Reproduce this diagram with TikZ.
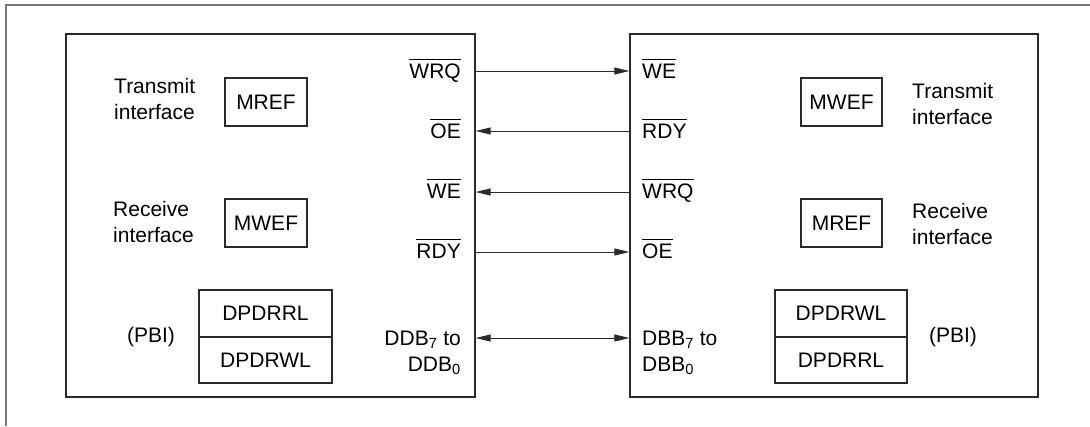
\documentclass[tikz,border=0pt]{standalone}
\usepackage{fontspec}
\setmainfont{Liberation Sans}
\usetikzlibrary{arrows.meta}
\newcommand{\ovl}[1]{\leavevmode\vbox{\hrule height 1.1pt\kern 3.6pt\hbox{#1}}}
\definecolor{framegray}{HTML}{767676}
\definecolor{linedark}{HTML}{2A2A2A}
\begin{document}
\begin{tikzpicture}[x=1pt,y=-1pt,
  font=\fontsize{21}{26}\selectfont,
  frameline/.style={draw=framegray,line width=1.4pt},
  blk/.style={draw=linedark,line width=1.3pt,rectangle,inner sep=0pt},
  sbox/.style={draw=linedark,line width=1.1pt,rectangle,inner sep=0pt},
  txt/.style={inner sep=0pt},
  arr/.style={draw=linedark,line width=0.9pt,-{Triangle[length=15pt,width=7pt]}},
  darr/.style={draw=linedark,line width=0.9pt,{Triangle[length=15pt,width=7pt]}-{Triangle[length=15pt,width=7pt]}}]
\useasboundingbox (0,0) rectangle (1090,426);
% outer frame
\draw[frameline] (6,426) -- (6,5) -- (1090,5);
% main blocks
\node[blk,minimum width=409pt,minimum height=363pt] (L) at (270.5,215.5) {};
\node[blk,minimum width=408pt,minimum height=363pt] (R) at (834,215.5) {};
% left block contents
\node[txt,anchor=north west,align=left] (tiL) at (114,78) {Transmit\\interface};
\node[sbox,minimum width=82pt,minimum height=48pt] (mrefL) at (266,102) {MREF};
\node[txt,anchor=north west,align=left] (riL) at (113,201) {Receive\\interface};
\node[sbox,minimum width=82pt,minimum height=48pt] (mwefL) at (266,223) {MWEF};
\node[sbox,minimum width=133pt,minimum height=47pt] (dprrL) at (265.5,313.5) {DPDRRL};
\node[sbox,minimum width=133pt,minimum height=46pt] (dprwL) at (265.5,360) {DPDRWL};
\node[txt,anchor=base] (pbiL) at (151,342) {(PBI)};
% right block contents
\node[sbox,minimum width=81pt,minimum height=48pt] (mwefR) at (841.5,102) {MWEF};
\node[txt,anchor=north west,align=left] (tiR) at (912,83) {Transmit\\interface};
\node[sbox,minimum width=81pt,minimum height=48pt] (mrefR) at (841.5,223) {MREF};
\node[txt,anchor=north west,align=left] (riR) at (912,203) {Receive\\interface};
\node[sbox,minimum width=132pt,minimum height=47pt] (dpwR) at (841,313.5) {DPDRWL};
\node[sbox,minimum width=132pt,minimum height=46pt] (dprR) at (841,360) {DPDRRL};
\node[txt,anchor=base] (pbiR) at (953,342) {(PBI)};
% signal labels, left
\node[txt,anchor=base east] (lWRQ) at (461,78) {\ovl{WRQ}};
\node[txt,anchor=base east] (lOE) at (461,138) {\ovl{OE}};
\node[txt,anchor=base east] (lWE) at (461,198) {\ovl{WE}};
\node[txt,anchor=base east] (lRDY) at (461,258.5) {\ovl{RDY}};
\node[txt,anchor=north east,align=right] (lDDB) at (461,331) {DDB\textsubscript{7} to\\DDB\textsubscript{0}};
% signal labels, right
\node[txt,anchor=base west] (rWE) at (642,78) {\ovl{WE}};
\node[txt,anchor=base west] (rRDY) at (642,138) {\ovl{RDY}};
\node[txt,anchor=base west] (rWRQ) at (642,198) {\ovl{WRQ}};
\node[txt,anchor=base west] (rOE) at (642,258.5) {\ovl{OE}};
\node[txt,anchor=north west,align=left] (rDBB) at (642,331) {DBB\textsubscript{7} to\\DBB\textsubscript{0}};
% connectors
\draw[arr] (L.east |- 0,71) -- (R.west |- 0,71);
\draw[arr] (R.west |- 0,131) -- (L.east |- 0,131);
\draw[arr] (R.west |- 0,192) -- (L.east |- 0,192);
\draw[arr] (L.east |- 0,252) -- (R.west |- 0,252);
\draw[darr] (L.east |- 0,338) -- (R.west |- 0,338);
\end{tikzpicture}
\end{document}
